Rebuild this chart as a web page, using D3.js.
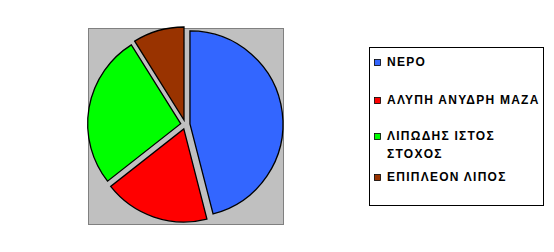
<!DOCTYPE html>
<html>
<head>
<meta charset="utf-8">
<script src="https://cdn.jsdelivr.net/npm/d3@7"></script>
<style>
  body { margin: 0; background: #fff; }
  svg { display: block; }
</style>
</head>
<body>
<svg id="chart" width="554" height="252"></svg>
<script>
// στοιχεία γραφήματος
var categories = ['ΝΕΡΟ', 'ΑΛΥΠΗ ΑΝΥΔΡΗ ΜΑΖΑ', 'ΛΙΠΩΔΗΣ ΙΣΤΟΣ\nΣΤΟΧΟΣ', 'ΕΠΙΠΛΕΟΝ ΛΙΠΟΣ'];
var values = [46, 18.4, 26.7, 8.9];
var colors = ['#3366ff', '#ff0000', '#00ff00', '#993300'];

var svg = d3.select('#chart');

// γκρι περιοχή σχεδίασης
svg.append('rect')
  .attr('x', 88.5).attr('y', 28.5)
  .attr('width', 195).attr('height', 196)
  .style('fill', '#c0c0c0')
  .style('stroke', '#808080');

var cx = 185.3, cy = 124.5, r = 93, explode = 4.7;

var pie = d3.pie().sort(null).value(function(d){ return d; });
var arc = d3.arc().innerRadius(0).outerRadius(r);

var g = svg.append('g').attr('transform', 'translate(' + cx + ',' + cy + ')');

g.selectAll('path')
  .data(pie(values))
  .enter()
  .append('path')
  .attr('d', arc)
  .attr('transform', function(d){
    var mid = (d.startAngle + d.endAngle) / 2;
    return 'translate(' + (explode * Math.sin(mid)) + ',' + (-explode * Math.cos(mid)) + ')';
  })
  .style('fill', function(d, i){ return colors[i]; })
  .style('stroke', '#000')
  .style('stroke-width', 1.3);

// υπόμνημα
svg.append('rect')
  .attr('x', 369.5).attr('y', 47.5)
  .attr('width', 174).attr('height', 158)
  .style('fill', '#fff')
  .style('stroke', '#000');

var baselines = [66, 104, 140, 181];
var lineHeight = 18;

var items = svg.selectAll('g.item')
  .data(categories)
  .enter()
  .append('g')
  .attr('class', 'item');

items.append('rect')
  .attr('x', 374.5)
  .attr('y', function(d, i){ return baselines[i] - 6.5; })
  .attr('width', 6).attr('height', 6)
  .style('fill', function(d, i){ return colors[i]; })
  .style('stroke', '#000')
  .style('stroke-width', 0.8);

items.append('text')
  .attr('x', 387)
  .attr('y', function(d, i){ return baselines[i]; })
  .style('font-family', '"Liberation Sans", Arial, sans-serif')
  .style('font-weight', 'bold')
  .style('font-size', '12px')
  .style('letter-spacing', '1.25px')
  .style('fill', '#000')
  .selectAll('tspan')
  .data(function(d){ return d.split('\n'); })
  .enter()
  .append('tspan')
  .attr('x', 387)
  .attr('dy', function(d, j){ return j ? lineHeight : 0; })
  .text(function(d){ return d; });
</script>
</body>
</html>
